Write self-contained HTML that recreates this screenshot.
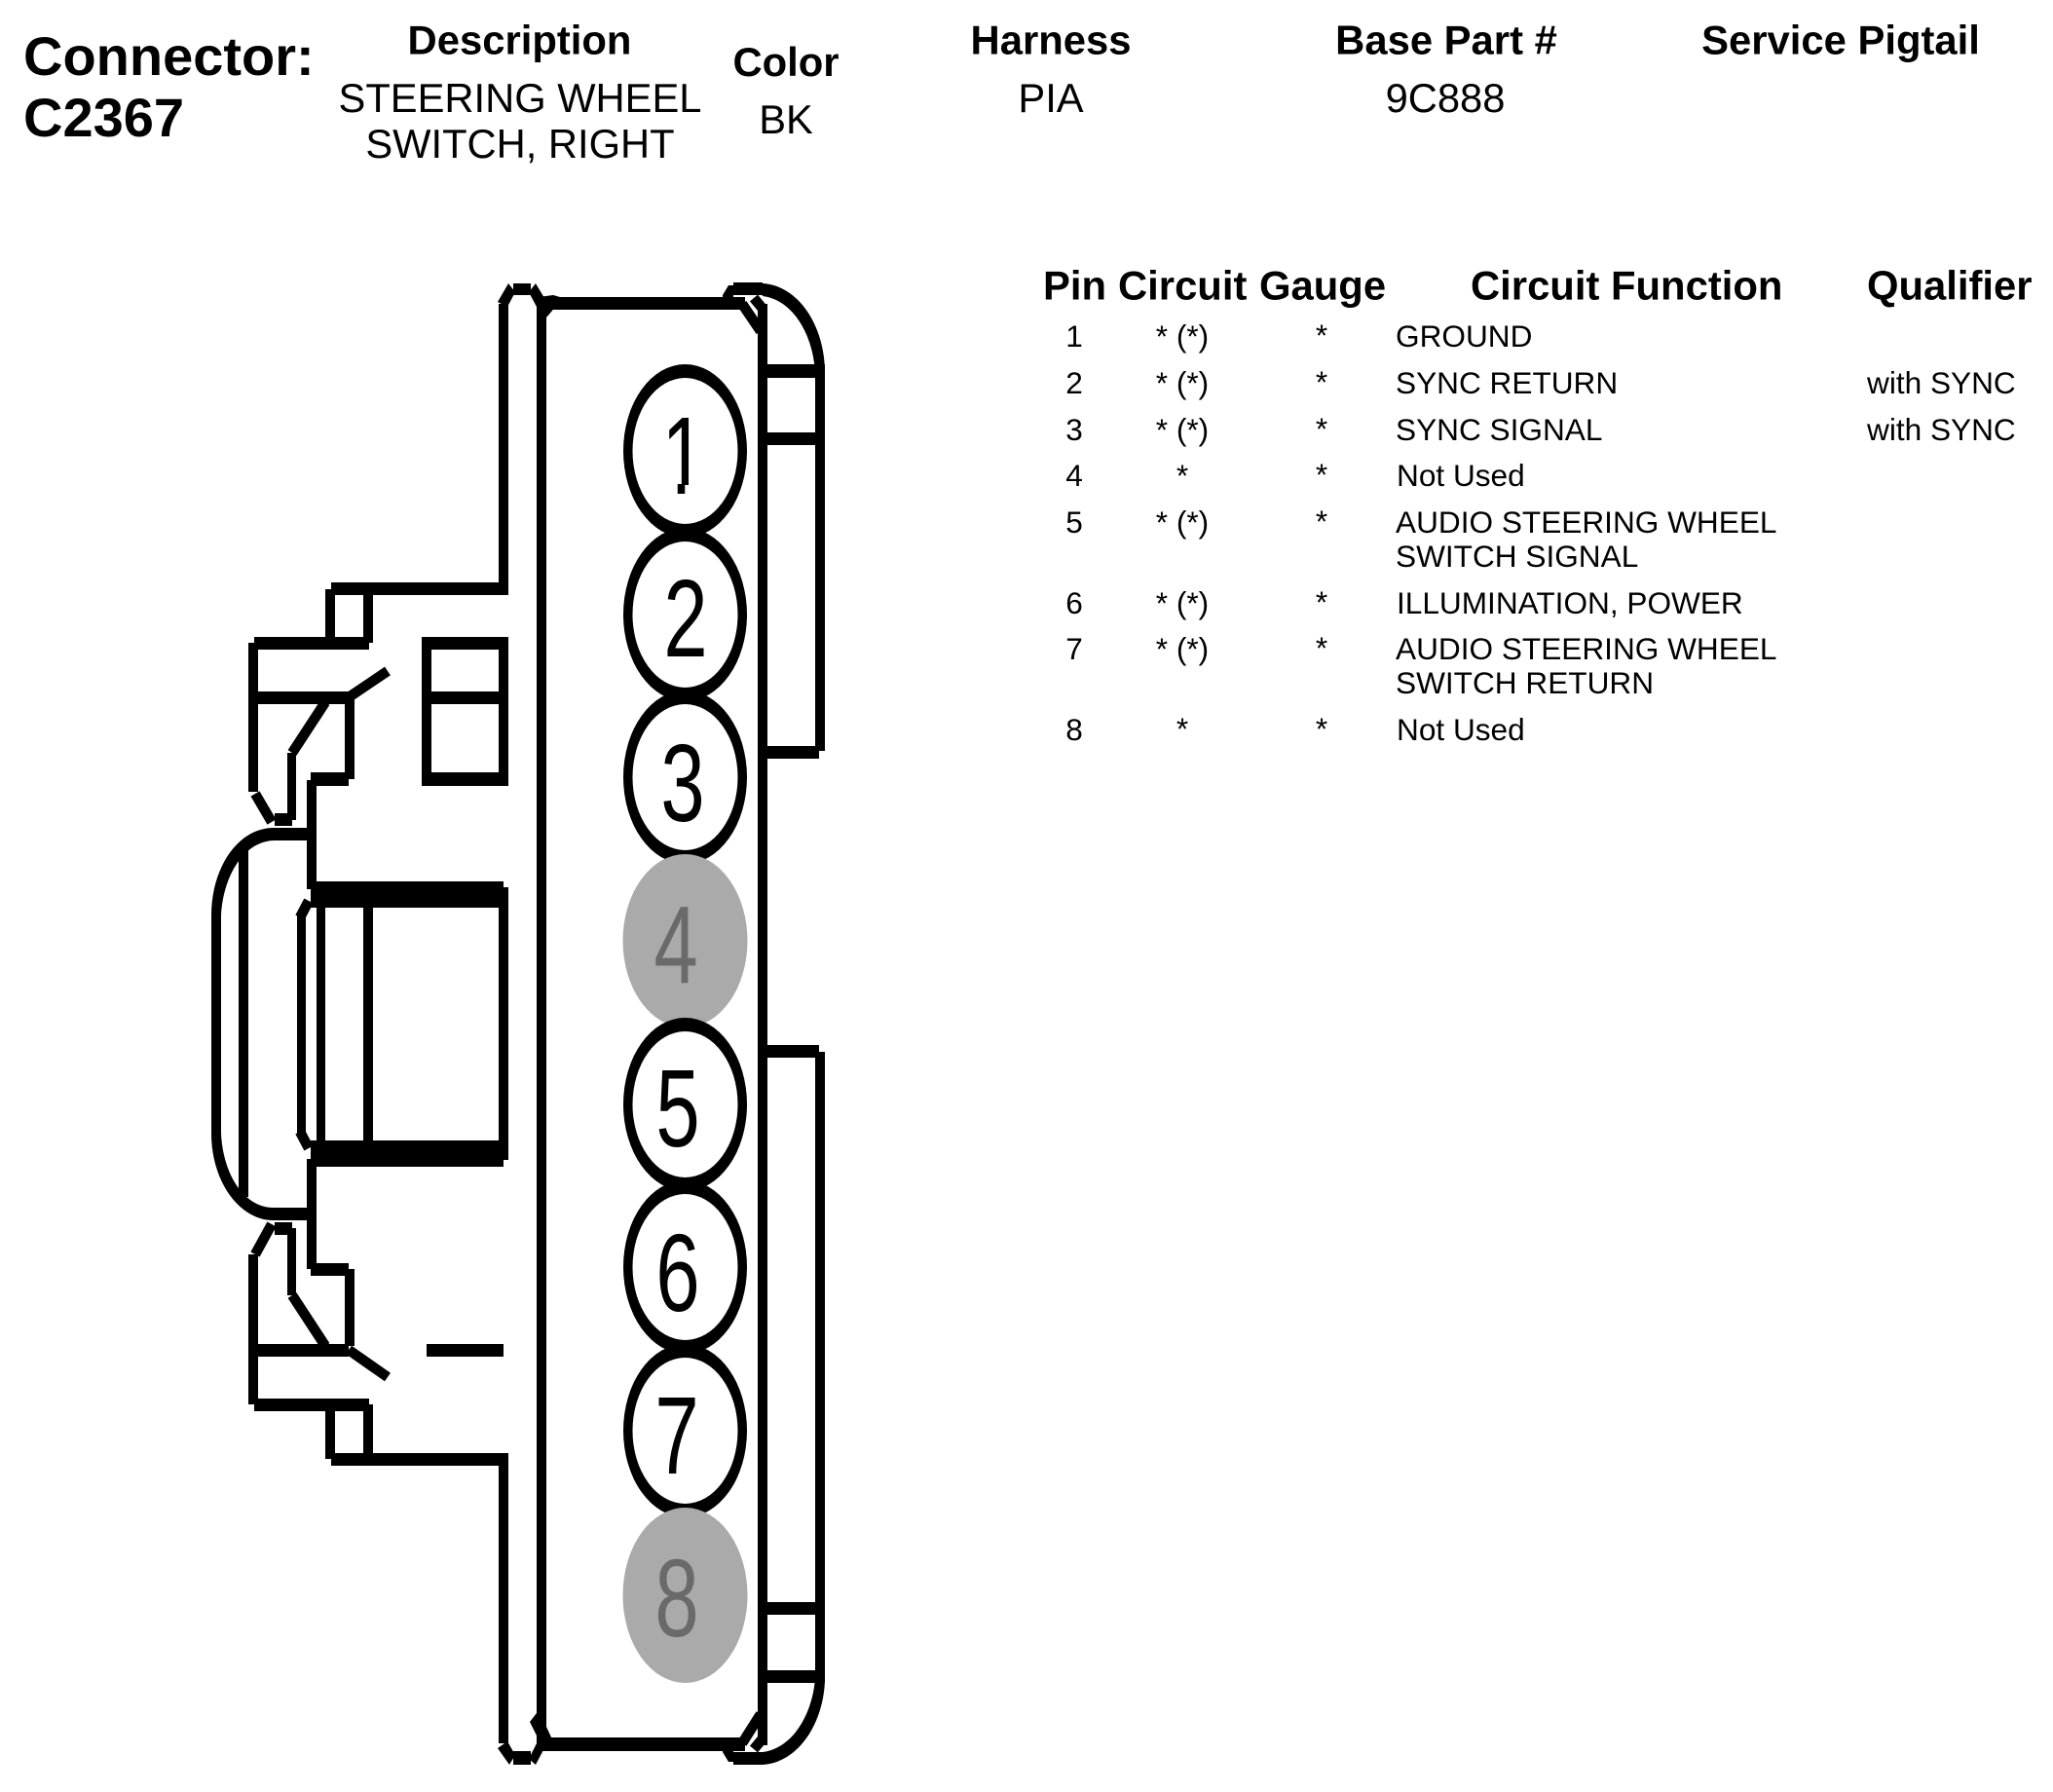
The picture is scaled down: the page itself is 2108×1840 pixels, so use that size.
<!DOCTYPE html>
<html><head><meta charset="utf-8"><style>
html,body{margin:0;padding:0;background:#fff;width:2108px;height:1840px;overflow:hidden}
svg{display:block}
text{font-family:"Liberation Sans",Arial,sans-serif;fill:#000}
.b{font-weight:bold;font-size:41.8px}
.h{font-size:41.7px}
.r{font-size:31.6px}
.m{text-anchor:middle}
.d{font-size:113px;text-anchor:middle}
</style></head><body>
<svg xmlns="http://www.w3.org/2000/svg" width="2108" height="1840" viewBox="0 0 2108 1840">
<defs>
<clipPath id="one"><rect x="660" y="400" width="90" height="98"/></clipPath>
</defs>
<rect width="2108" height="1840" fill="#fff"/>

<!-- header -->
<text x="24" y="77" font-size="56" font-weight="bold">Connector:</text>
<text x="24" y="140" font-size="56" font-weight="bold">C2367</text>
<text x="533.5" y="55.5" class="b m">Description</text>
<text x="534" y="115" class="h m">STEERING WHEEL</text>
<text x="534" y="162" class="h m">SWITCH, RIGHT</text>
<text x="807" y="78" class="b m">Color</text>
<text x="807" y="137" class="h m">BK</text>
<text x="1079" y="55.5" class="b m">Harness</text>
<text x="1079" y="115" class="h m">PIA</text>
<text x="1485" y="55.5" class="b m">Base Part #</text>
<text x="1484" y="115" class="h m">9C888</text>
<text x="1890" y="55.5" class="b m">Service Pigtail</text>

<!-- table header -->
<text x="1071" y="307.5" class="b">Pin</text>
<text x="1148" y="307.5" class="b">Circuit</text>
<text x="1293" y="307.5" class="b">Gauge</text>
<text x="1510" y="307.5" class="b">Circuit Function</text>
<text x="1917" y="307.5" class="b">Qualifier</text>

<!-- rows -->
<g>
<text x="1103" y="356" class="r m">1</text>
<text x="1103" y="404" class="r m">2</text>
<text x="1103" y="452" class="r m">3</text>
<text x="1103" y="499" class="r m">4</text>
<text x="1103" y="547" class="r m">5</text>
<text x="1103" y="630" class="r m">6</text>
<text x="1103" y="677" class="r m">7</text>
<text x="1103" y="760" class="r m">8</text>

<text x="1214" y="356" class="r m">* (*)</text>
<text x="1214" y="404" class="r m">* (*)</text>
<text x="1214" y="452" class="r m">* (*)</text>
<text x="1214" y="499" class="r m">*</text>
<text x="1214" y="547" class="r m">* (*)</text>
<text x="1214" y="630" class="r m">* (*)</text>
<text x="1214" y="677" class="r m">* (*)</text>
<text x="1214" y="759" class="r m">*</text>

<text x="1357" y="355" class="r m">*</text>
<text x="1357" y="403" class="r m">*</text>
<text x="1357" y="451" class="r m">*</text>
<text x="1357" y="498" class="r m">*</text>
<text x="1357" y="546" class="r m">*</text>
<text x="1357" y="629" class="r m">*</text>
<text x="1357" y="676" class="r m">*</text>
<text x="1357" y="759" class="r m">*</text>

<text x="1433" y="356" class="r">GROUND</text>
<text x="1433" y="404" class="r">SYNC RETURN</text>
<text x="1433" y="452" class="r">SYNC SIGNAL</text>
<text x="1434" y="499" class="r">Not Used</text>
<text x="1433" y="547" class="r">AUDIO STEERING WHEEL</text>
<text x="1433" y="582" class="r">SWITCH SIGNAL</text>
<text x="1434" y="630" class="r">ILLUMINATION, POWER</text>
<text x="1433" y="677" class="r">AUDIO STEERING WHEEL</text>
<text x="1433" y="712" class="r">SWITCH RETURN</text>
<text x="1434" y="760" class="r">Not Used</text>

<text x="1917" y="404" class="r">with SYNC</text>
<text x="1917" y="452" class="r">with SYNC</text>
</g>

<!-- connector: straight segments -->
<g fill="#000">
<rect x="512" y="312" width="10" height="299"/>
<rect x="340" y="598" width="182" height="13"/>
<rect x="334" y="605" width="10" height="55"/>
<rect x="373" y="605" width="10" height="55"/>
<rect x="261" y="654" width="118" height="13"/>
<rect x="255" y="660" width="10" height="153"/>
<rect x="265" y="710" width="93" height="13"/>
<rect x="295" y="773" width="9" height="69"/>
<rect x="354" y="716" width="10" height="84"/>
<rect x="319" y="793" width="39" height="14"/>
<rect x="315" y="801" width="10" height="112"/>
<rect x="282" y="835" width="18" height="13"/>
<!-- rectangle window -->
<rect x="433" y="654" width="89" height="13"/>
<rect x="433" y="793" width="89" height="14"/>
<rect x="433" y="654" width="10" height="153"/>
<rect x="512" y="654" width="10" height="153"/>
<rect x="442" y="710" width="70" height="13"/>
<!-- main body -->
<rect x="551" y="312" width="10" height="1480"/>
<rect x="553" y="305" width="212" height="13"/>
<rect x="778" y="312" width="10" height="1480"/>
<rect x="527" y="291" width="18" height="12"/>
<rect x="753" y="290" width="30" height="13"/>
<polygon points="742,303 748,293 753,293 753,306 742,306"/>
<polygon points="511,310 522,291 529,300 521,315"/>
<polygon points="543,300 550,291 559,306 551,315"/>
<polygon points="553,305 568,303 575,305 567,319 561,326 553,326"/>
<!-- right top tab -->
<rect x="788" y="374" width="59" height="14"/>
<rect x="788" y="444" width="50" height="13"/>
<rect x="837" y="381" width="10" height="390"/>
<rect x="788" y="766" width="53" height="13"/>
<path d="M783 291 C820 293 847 335 847 382 L837 382 C835 345 815 308 783 304 Z"/>
<!-- center block -->
<rect x="281" y="850" width="44" height="13"/>
<rect x="319" y="905" width="198" height="27"/>
<rect x="319" y="1171" width="198" height="27"/>
<rect x="512" y="911" width="10" height="280"/>
<rect x="325" y="926" width="9" height="249"/>
<rect x="373" y="932" width="10" height="239"/>
<rect x="305" y="940" width="9" height="224"/>
<rect x="217" y="940" width="10" height="224"/>
<rect x="245" y="873" width="10" height="356"/>
<rect x="281" y="1240" width="44" height="13"/>
<rect x="315" y="1190" width="10" height="113"/>
<path d="M281 850 C245 850 217 890 217 940 L227 940 C229 900 250 864 281 863 Z"/>
<path d="M281 1253 C245 1253 217 1212 217 1164 L227 1164 C229 1205 250 1240 281 1240 Z"/>
<!-- lower latch -->
<rect x="282" y="1255" width="18" height="13"/>
<rect x="295" y="1261" width="9" height="69"/>
<rect x="255" y="1288" width="10" height="154"/>
<rect x="265" y="1380" width="93" height="13"/>
<rect x="354" y="1303" width="10" height="79"/>
<rect x="319" y="1297" width="39" height="13"/>
<rect x="438" y="1380" width="79" height="13"/>
<rect x="261" y="1436" width="118" height="13"/>
<rect x="334" y="1442" width="10" height="56"/>
<rect x="373" y="1442" width="10" height="56"/>
<rect x="340" y="1492" width="182" height="13"/>
<rect x="512" y="1498" width="10" height="292"/>
<!-- bottom -->
<rect x="553" y="1784" width="212" height="14"/>
<rect x="527" y="1798" width="18" height="14"/>
<rect x="753" y="1799" width="30" height="13"/>
<polygon points="742,1799 748,1809 753,1809 753,1796 742,1796"/>
<polygon points="511,1795 521,1788 529,1802 523,1812"/>
<polygon points="543,1806 550,1812 560,1793 552,1788"/>
<polygon points="544,1768 551,1759 561,1759 561,1773 567,1786 553,1786"/>
<!-- right bottom tab -->
<rect x="788" y="1073" width="53" height="13"/>
<rect x="837" y="1080" width="10" height="642"/>
<rect x="788" y="1645" width="50" height="13"/>
<rect x="788" y="1715" width="59" height="13"/>
<path d="M783 1812 C820 1810 847 1768 847 1722 L837 1722 C835 1758 815 1795 783 1799 Z"/>
</g>

<!-- diagonals -->
<g fill="none" stroke="#000" stroke-width="10.5">
<line x1="262" y1="815" x2="279" y2="844"/>
<line x1="358" y1="716" x2="398" y2="689"/>
<line x1="334" y1="721" x2="300" y2="773"/>
<line x1="762" y1="312" x2="781" y2="340"/>
<line x1="774" y1="306" x2="784" y2="318"/>
<line x1="317" y1="925" x2="308" y2="942"/>
<line x1="308" y1="1162" x2="317" y2="1179"/>
<line x1="262" y1="1288" x2="279" y2="1257"/>
<line x1="300" y1="1330" x2="334" y2="1382"/>
<line x1="358" y1="1386" x2="398" y2="1414"/>
<line x1="762" y1="1790" x2="781" y2="1760"/>
<line x1="774" y1="1796" x2="784" y2="1784"/>
</g>

<!-- pins -->
<ellipse cx="703.5" cy="463" rx="63.5" ry="89"/><ellipse cx="703.5" cy="463" rx="54" ry="75" fill="#fff"/>
<ellipse cx="703.5" cy="631" rx="63.5" ry="89"/><ellipse cx="703.5" cy="631" rx="54" ry="75" fill="#fff"/>
<ellipse cx="703.5" cy="798" rx="63.5" ry="89"/><ellipse cx="703.5" cy="798" rx="54" ry="75" fill="#fff"/>
<ellipse cx="703.5" cy="966" rx="64" ry="89" fill="#aaa"/>
<ellipse cx="703.5" cy="1134" rx="63.5" ry="89"/><ellipse cx="703.5" cy="1134" rx="54" ry="75" fill="#fff"/>
<ellipse cx="703.5" cy="1301" rx="63.5" ry="89"/><ellipse cx="703.5" cy="1301" rx="54" ry="75" fill="#fff"/>
<ellipse cx="703.5" cy="1469" rx="63.5" ry="89"/><ellipse cx="703.5" cy="1469" rx="54" ry="75" fill="#fff"/>
<ellipse cx="703.5" cy="1638" rx="64" ry="90" fill="#aaa"/>

<g clip-path="url(#one)"><text class="d" transform="translate(702,507) scale(.72,1)">1</text></g>
<rect x="695.75" y="497" width="7.5" height="10" fill="#000"/>
<text class="d" transform="translate(704,674) scale(.72,1)">2</text>
<text class="d" transform="translate(701,843) scale(.72,1)">3</text>
<text class="d" transform="translate(694,1009) scale(.72,1)" style="fill:#6a6a6a">4</text>
<text class="d" transform="translate(696,1177) scale(.72,1)">5</text>
<text class="d" transform="translate(696,1346) scale(.72,1)">6</text>
<text class="d" transform="translate(695,1513) scale(.72,1)">7</text>
<text class="d" transform="translate(695,1680) scale(.72,1)" style="fill:#6a6a6a">8</text>
</svg>
</body></html>
